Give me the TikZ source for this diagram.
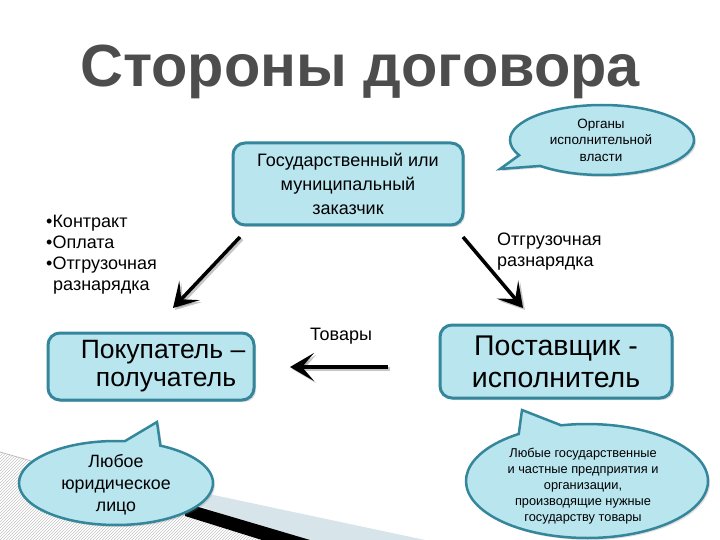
\documentclass[tikz,border=0pt]{standalone}
\usepackage{fontspec}
\setmainfont{Liberation Sans}
\usetikzlibrary{shapes.callouts,arrows.meta,patterns,shadows,calc}
\definecolor{boxfill}{RGB}{185,229,239}
\definecolor{boxline}{RGB}{52,134,155}
\definecolor{titlegray}{RGB}{77,77,77}
\definecolor{bandgray}{RGB}{215,228,234}
\begin{document}
\begin{tikzpicture}[x=1pt,y=-1pt,
  box/.style={draw=boxline,line width=3pt,fill=boxfill,rounded corners=12pt,
    drop shadow={shadow xshift=2pt,shadow yshift=-2pt,opacity=0.3}},
  bubble/.style={ellipse callout,draw=boxline,line width=2.5pt,fill=boxfill,
    inner sep=0pt,callout pointer arc=22,
    drop shadow={shadow xshift=2pt,shadow yshift=-2pt,opacity=0.25}},
  bigarrow/.style={line width=3.5pt,-{Stealth[length=24pt,width=28pt,inset=12pt]}},
  arrowshadow/.style={bigarrow,draw=gray,opacity=0.45},
  lbl/.style={align=left,inner sep=0pt,font=\fontsize{18}{21}\selectfont},
]
\useasboundingbox (0,0) rectangle (720,540);
% background decoration
\fill[pattern=north east lines,pattern color=gray!45] (0,452) -- (185,505) -- (270,540) -- (0,540) -- cycle;
\draw[gray!50,line width=0.8pt] (0,452) -- (185,505);
\fill[bandgray] (190,490) -- (425,540) -- (300,540) -- (190,503) -- cycle;
\fill[black] (185,503) -- (310,540) -- (262,540) -- (185,516) -- cycle;

% title
\node[font=\fontsize{59.5}{62}\selectfont\bfseries,text=titlegray] (title) at (360,72) {Стороны договора};

% boxes
\node[box,minimum width=230pt,minimum height=82pt] (customer) at (348,184) {};
\node[align=center,font=\fontsize{18}{24}\selectfont] (customertxt) at (customer.center) {Государственный или\\муниципальный\\заказчик};
\node[box,minimum width=206pt,minimum height=67pt] (buyer) at (151,366.5) {};
\node[align=center,font=\fontsize{26.5}{28}\selectfont] (buyertxt) at ($(buyer.center)+(12,0)$) {Покупатель –\\\hspace*{6pt}получатель};
\node[box,minimum width=232pt,minimum height=73pt] (supplier) at (556,361.5) {};
\node[align=center,font=\fontsize{28.5}{32}\selectfont] (suppliertxt) at (supplier.center) {Поставщик -\\исполнитель};

% callouts
\node[bubble,minimum width=184pt,minimum height=70pt,callout absolute pointer={(500,169)}] (organs) at (602,140) {};
\node[align=center,font=\fontsize{13.5}{16.5}\selectfont] (organstxt) at (601,140) {Органы\\исполнительной\\власти};
\node[bubble,minimum width=194pt,minimum height=84pt,callout absolute pointer={(157,422)}] (legal) at (116,483) {};
\node[align=center,font=\fontsize{17.8}{22}\selectfont] (legaltxt) at (116,485) {Любое\\юридическое\\лицо};
\node[bubble,minimum width=242pt,minimum height=114pt,callout absolute pointer={(522,410)}] (firms) at (587,481) {};
\node[align=center,font=\fontsize{12.8}{16}\selectfont] (firmstxt) at (583,486) {Любые государственные\\и частные предприятия и\\организации,\\производящие нужные\\государству товары};

% labels
\node[lbl,anchor=west] (leftlist) at (46,255) {•Контракт\\•Оплата\\•Отгрузочная\\\hspace*{7pt}разнарядка};
\node[lbl,anchor=west] (rightlbl) at (497,251.5) {Отгрузочная\\разнарядка};
\node[font=\fontsize{18}{20}\selectfont] (goods) at (341,336) {Товары};

% arrows
\coordinate (a1s) at (240,237); \coordinate (a1e) at (173,308);
\coordinate (a2s) at (463,237); \coordinate (a2e) at (523,308);
\coordinate (a3s) at (388,367); \coordinate (a3e) at (290,367);
\draw[arrowshadow] ($(a1s)+(2,2)$) -- ($(a1e)+(2,2)$);
\draw[arrowshadow] ($(a2s)+(2,2)$) -- ($(a2e)+(2,2)$);
\draw[arrowshadow] ($(a3s)+(2,2)$) -- ($(a3e)+(2,2)$);
\draw[bigarrow] (a1s) -- (a1e);
\draw[bigarrow] (a2s) -- (a2e);
\draw[bigarrow] (a3s) -- (a3e);
\end{tikzpicture}
\end{document}
